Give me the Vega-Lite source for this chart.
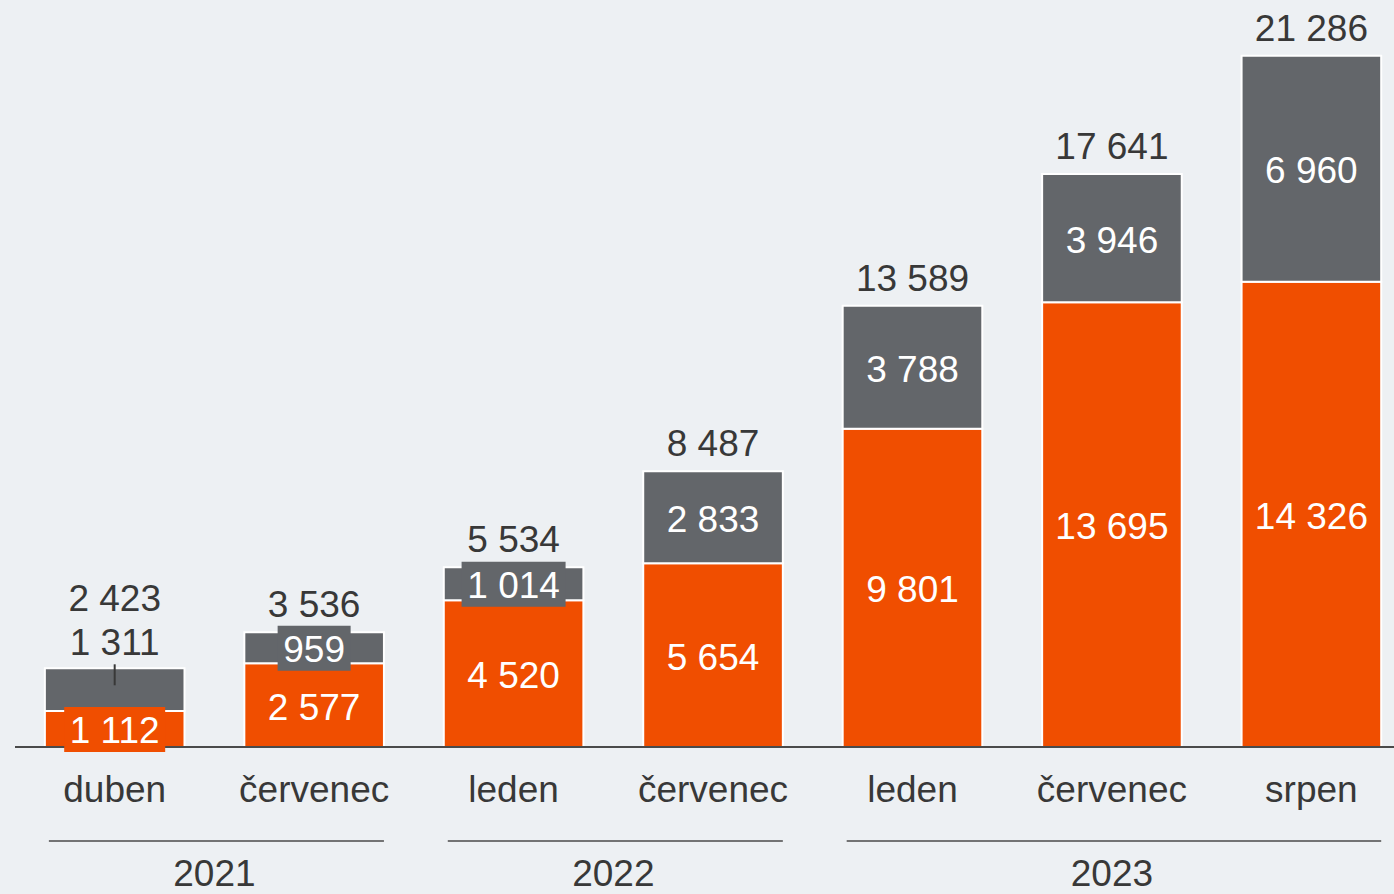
{
  "$schema": "https://vega.github.io/schema/vega-lite/v6.json",
  "width": 1379,
  "height": 747,
  "autosize": {"type": "none"},
  "padding": {"left": 15, "top": 0, "right": 0, "bottom": 147},
  "background": "#EDF0F3",
  "config": {
    "view": {"stroke": null},
    "font": "Liberation Sans",
    "text": {"font": "Liberation Sans", "fontSize": 37},
    "locale": {"number": {"decimal": ",", "thousands": " ", "grouping": [3], "currency": ["", " Kč"]}}
  },
  "datasets": {
    "years": [
      {"year": "2021", "first": "2021-04", "last": "2021-07"},
      {"year": "2022", "first": "2022-01", "last": "2022-07"},
      {"year": "2023", "first": "2023-01", "last": "2023-08"}
    ]
  },
  "data": {
    "values": [
      {"id": "2021-04", "year": "2021", "month": "duben", "A": 1112, "B": 1311, "total": 2423},
      {"id": "2021-07", "year": "2021", "month": "červenec", "A": 2577, "B": 959, "total": 3536},
      {"id": "2022-01", "year": "2022", "month": "leden", "A": 4520, "B": 1014, "total": 5534},
      {"id": "2022-07", "year": "2022", "month": "červenec", "A": 5654, "B": 2833, "total": 8487},
      {"id": "2023-01", "year": "2023", "month": "leden", "A": 9801, "B": 3788, "total": 13589},
      {"id": "2023-07", "year": "2023", "month": "červenec", "A": 13695, "B": 3946, "total": 17641},
      {"id": "2023-08", "year": "2023", "month": "srpen", "A": 14326, "B": 6960, "total": 21286}
    ]
  },
  "transform": [
    {"fold": ["A", "B"], "as": ["series", "value"]},
    {"stack": "value", "groupby": ["id"], "sort": [{"field": "series", "order": "ascending"}], "as": ["y0", "y1"]},
    {"calculate": "(datum.y0 + datum.y1) / 2", "as": "mid"}
  ],
  "layer": [
    {
      "mark": {"type": "bar", "stroke": "#FFFFFF", "strokeWidth": 2},
      "encoding": {
        "x": {"field": "id", "type": "nominal", "axis": null, "scale": {"paddingInner": 0.3, "paddingOuter": 0.107, "align": 0.7}},
        "y": {"field": "y1", "type": "quantitative", "axis": null, "scale": {"domain": [0, 23000], "nice": false, "zero": true}},
        "y2": {"field": "y0"},
        "color": {"field": "series", "type": "nominal", "legend": null, "scale": {"domain": ["A", "B"], "range": ["#F04E00", "#63666A"]}}
      }
    },
    {
      "data": {"values": [{"base": 0}]},
      "mark": {"type": "rule", "color": "#4A4A4A", "strokeWidth": 2},
      "encoding": {
        "y": {"field": "base", "type": "quantitative", "axis": null, "scale": {"domain": [0, 23000], "nice": false, "zero": true}}
      }
    },
    {
      "transform": [{"filter": "(datum.id == '2021-04' && datum.series == 'A') || (datum.id == '2021-07' && datum.series == 'B') || (datum.id == '2022-01' && datum.series == 'B')"}],
      "mark": {"type": "bar", "yOffset": -22, "y2Offset": 23},
      "encoding": {
        "x": {"field": "id", "type": "nominal", "axis": null},
        "y": {"field": "mid", "type": "quantitative", "axis": null, "scale": {"domain": [0, 23000], "nice": false, "zero": true}},
        "y2": {"field": "mid"},
        "size": {"condition": [{"test": "datum.id == '2021-07'", "value": 73}, {"test": "datum.id == '2022-01'", "value": 104}], "value": 101},
        "color": {"field": "series", "type": "nominal", "legend": null}
      }
    },
    {
      "transform": [{"filter": "!(datum.id == '2021-04' && datum.series == 'B')"}],
      "mark": {"type": "text", "color": "#FFFFFF", "baseline": "alphabetic", "dy": 14.5, "fontSize": 37},
      "encoding": {
        "x": {"field": "id", "type": "nominal", "axis": null},
        "y": {"field": "mid", "type": "quantitative", "axis": null, "scale": {"domain": [0, 23000], "nice": false, "zero": true}},
        "text": {"field": "value", "type": "quantitative", "format": ",d"}
      }
    },
    {
      "transform": [{"filter": "datum.id == '2021-04' && datum.series == 'B'"}],
      "mark": {"type": "text", "color": "#383838", "baseline": "alphabetic", "dy": -13, "fontSize": 37},
      "encoding": {
        "x": {"field": "id", "type": "nominal", "axis": null},
        "y": {"field": "y1", "type": "quantitative", "axis": null, "scale": {"domain": [0, 23000], "nice": false, "zero": true}},
        "text": {"field": "value", "type": "quantitative", "format": ",d"}
      }
    },
    {
      "transform": [{"filter": "datum.id == '2021-04' && datum.series == 'B'"}],
      "mark": {"type": "text", "color": "#383838", "baseline": "alphabetic", "dy": -57, "fontSize": 37},
      "encoding": {
        "x": {"field": "id", "type": "nominal", "axis": null},
        "y": {"field": "y1", "type": "quantitative", "axis": null, "scale": {"domain": [0, 23000], "nice": false, "zero": true}},
        "text": {"field": "total", "type": "quantitative", "format": ",d"}
      }
    },
    {
      "transform": [{"filter": "datum.id != '2021-04' && datum.series == 'B'"}],
      "mark": {"type": "text", "color": "#383838", "baseline": "alphabetic", "dy": -15, "fontSize": 37},
      "encoding": {
        "x": {"field": "id", "type": "nominal", "axis": null},
        "y": {"field": "y1", "type": "quantitative", "axis": null, "scale": {"domain": [0, 23000], "nice": false, "zero": true}},
        "text": {"field": "total", "type": "quantitative", "format": ",d"}
      }
    },
    {
      "transform": [{"filter": "datum.id == '2021-04' && datum.series == 'B'"}],
      "mark": {"type": "rule", "color": "#383838", "strokeWidth": 2, "yOffset": -4, "y2Offset": 17},
      "encoding": {
        "x": {"field": "id", "type": "nominal", "axis": null},
        "y": {"field": "y1", "type": "quantitative", "axis": null, "scale": {"domain": [0, 23000], "nice": false, "zero": true}},
        "y2": {"field": "y1"}
      }
    },
    {
      "transform": [{"filter": "datum.series == 'A'"}],
      "mark": {"type": "text", "color": "#383838", "baseline": "alphabetic", "dy": 55, "fontSize": 37},
      "encoding": {
        "x": {"field": "id", "type": "nominal", "axis": null},
        "y": {"datum": 0, "type": "quantitative", "axis": null, "scale": {"domain": [0, 23000], "nice": false, "zero": true}},
        "text": {"field": "month", "type": "nominal"}
      }
    },
    {
      "data": {"name": "years"},
      "mark": {"type": "rule", "color": "#4A4A4A", "strokeWidth": 1.5, "yOffset": 94, "xOffset": 4},
      "encoding": {
        "x": {"field": "first", "type": "nominal", "axis": null, "bandPosition": 0},
        "x2": {"field": "last", "bandPosition": 1},
        "y": {"datum": 0, "type": "quantitative", "axis": null, "scale": {"domain": [0, 23000], "nice": false, "zero": true}}
      }
    },
    {
      "data": {"name": "years"},
      "mark": {"type": "text", "color": "#383838", "baseline": "alphabetic", "align": "center", "dy": 139, "fontSize": 37,
               "dx": {"expr": "(scale('x', datum.last) + bandwidth('x') - scale('x', datum.first)) / 2"}},
      "encoding": {
        "x": {"field": "first", "type": "nominal", "axis": null, "bandPosition": 0},
        "y": {"datum": 0, "type": "quantitative", "axis": null, "scale": {"domain": [0, 23000], "nice": false, "zero": true}},
        "text": {"field": "year", "type": "nominal"}
      }
    }
  ]
}
